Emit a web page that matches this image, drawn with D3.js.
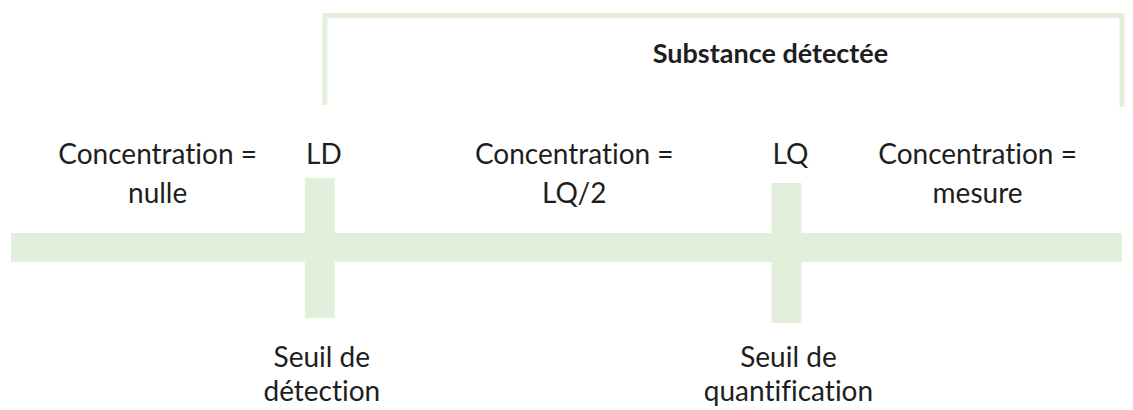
<!DOCTYPE html>
<html>
<head>
<meta charset="utf-8">
<script src="https://cdn.jsdelivr.net/npm/d3@7"></script>
<style>
  html, body { margin: 0; padding: 0; background: #fff; }
  text { font-family: Lato, "Open Sans", sans-serif; fill: #1e1e1e; font-variant-ligatures: none; }
</style>
</head>
<body>
<div id="container"></div>
<script>
// Positions along the concentration scale (0 = nulle, 100 = right end)
const thresholdLabels = ["LD", "LQ"];
const thresholdValues = [27.8, 69.8];
const thresholdNames = [["Seuil de", "détection"], ["Seuil de", "quantification"]];

const zoneLabels = [["Concentration =", "nulle"], ["Concentration =", "LQ/2"], ["Concentration =", "mesure"]];
const zoneValues = [13.2, 50.7, 87.0];

const bracketLabel = "Substance détectée";

const width = 1133;
const height = 410;
const green = "#e2efda";
const fontSize = "28px";

const x = d3.scaleLinear().domain([0, 100]).range([11, 1122]);

const svg = d3.create("svg").attr("width", width).attr("height", height);

// main horizontal bar
svg.append("rect")
  .attr("x", x(0))
  .attr("y", 233)
  .attr("width", x(100) - x(0))
  .attr("height", 29)
  .attr("fill", green);

// threshold crosses
svg.append("g")
  .selectAll("rect")
  .data(thresholdValues)
  .join("rect")
  .attr("x", d => x(d) - 15)
  .attr("y", (d, i) => i === 0 ? 178 : 183)
  .attr("width", 30)
  .attr("height", 140)
  .attr("fill", green);

// threshold labels above
svg.append("g")
  .selectAll("text")
  .data(thresholdLabels)
  .join("text")
  .attr("x", (d, i) => x(thresholdValues[i]) + 4)
  .attr("y", 164)
  .attr("text-anchor", "middle")
  .attr("font-size", fontSize)
  .text(d => d);

// threshold names below
thresholdNames.forEach((lines, i) => {
  const t = svg.append("text")
    .attr("x", x(thresholdValues[i]) + 2)
    .attr("y", 367)
    .attr("text-anchor", "middle")
    .attr("font-size", fontSize);
  lines.forEach((s, j) => {
    t.append("tspan").attr("x", x(thresholdValues[i]) + 2).attr("dy", j === 0 ? 0 : 34).text(s);
  });
});

// zone labels
zoneLabels.forEach((lines, i) => {
  const t = svg.append("text")
    .attr("y", 164)
    .attr("text-anchor", "middle")
    .attr("font-size", fontSize);
  lines.forEach((s, j) => {
    t.append("tspan").attr("x", x(zoneValues[i])).attr("dy", j === 0 ? 0 : 39).text(s);
  });
});

// bracket over the detected zone
const bx0 = x(thresholdValues[0]) + 5;
const bx1 = x(100);
svg.append("path")
  .attr("d", `M${bx0},105 V15.5 H${bx1} V107`)
  .attr("fill", "none")
  .attr("stroke", green)
  .attr("stroke-width", 5);

svg.append("text")
  .attr("x", (bx0 + bx1) / 2 + 47)
  .attr("y", 63)
  .attr("text-anchor", "middle")
  .attr("font-size", "27px")
  .attr("font-weight", "bold")
  .text(bracketLabel);

document.getElementById("container").append(svg.node());
</script>
</body>
</html>
